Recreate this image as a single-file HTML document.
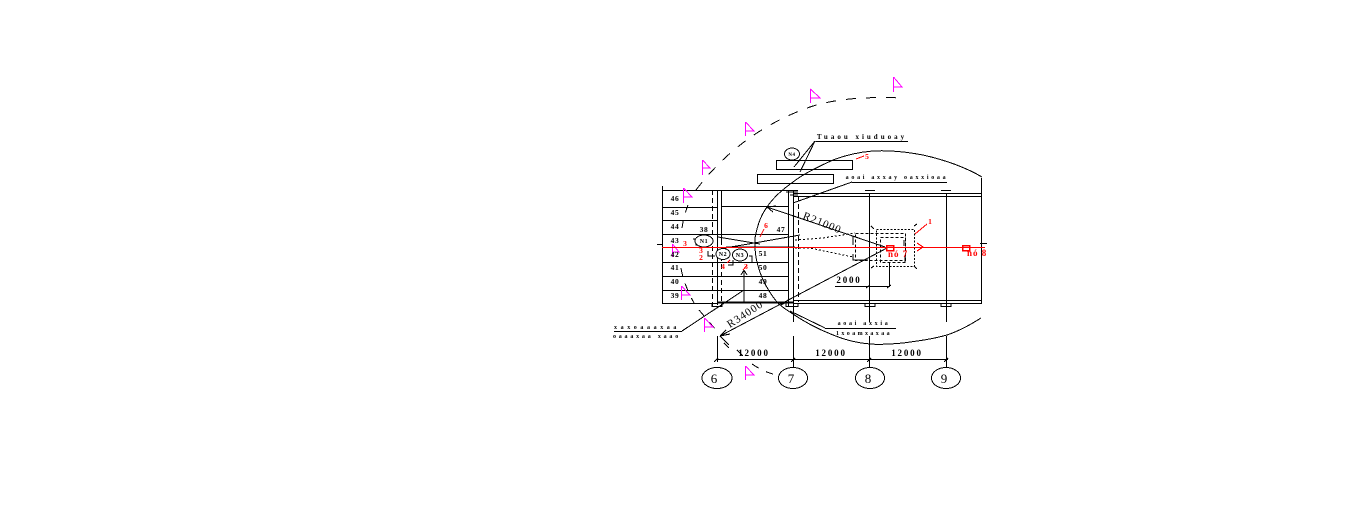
<!DOCTYPE html>
<html><head><meta charset="utf-8"><style>
html,body{margin:0;padding:0;background:#fff;width:1359px;height:519px;overflow:hidden}
svg{display:block}
text{font-family:"Liberation Serif",serif;fill:#000}
.n{font-size:7.5px;font-weight:bold;letter-spacing:.6px;text-anchor:middle}
.d{font-size:9px;font-weight:bold;letter-spacing:1.8px;text-anchor:middle}
.g{font-size:6px;font-weight:bold;text-anchor:middle}
.c{font-size:13px;text-anchor:middle}
.r{fill:#f00;font-size:7.5px;font-weight:bold;text-anchor:middle}
.rn{fill:#f00;font-size:9px;font-weight:bold;letter-spacing:1px}
</style></head><body>
<svg width="1359" height="519" viewBox="0 0 1359 519" xmlns="http://www.w3.org/2000/svg">
<g fill="none" stroke="#000" stroke-width="1" shape-rendering="crispEdges">
<!-- table -->
<path d="M662.5 186V303M662 190.5H798M662 207.5H717M662 220.5H717M662 234.5H788M662 262.5H788M662 276.5H788M662 290.5H788M662 303.5H717"/>
<path d="M717.5 190V305M793.5 190V322M869.5 193V322M946.5 193V322M981.5 178V304M717.5 336V362M793.5 336V370M869.5 336V370M946.5 336V370"/>
<path d="M788.5 190V306M721 206.5H788M793 193.5H982M793 196.5H982M793 300.5H982M793 303.5H982"/>
<path d="M717 302.5H793" stroke-width="2"/>
<path d="M712.5 190V306M721.5 240V306M798.5 196V302" stroke-dasharray="5 3"/>
<path d="M721.5 190V240"/>
<!-- axis end ticks -->
<path d="M657 244.5H663M980 243.5H987"/>
<!-- pads -->
<path d="M712 303.5V306.5H722V303.5M786 303.5V306.5H798V303.5M865 303.5V306.5H875V303.5M941 303.5V306.5H951V303.5M865 190.5H875M941 190.5H951M786 192H798M790 195H798"/>
<!-- dashed big arc -->
<path d="M696 190 C715 165 750 128 810 107 C840 97 875 97 904 98" stroke-dasharray="10 10"/>
<path d="M688 205 C684 215 682 226 681 236 M681 268 C683 280 688 292 694 303 M699 310 L716 330 M724 343 L729 348 M752 364 C758 368 765 372 773 374" stroke-dasharray="8 8"/>
<!-- rects -->
<rect x="776.5" y="160.5" width="76" height="9" fill="#fff"/>
<rect x="757.5" y="174.5" width="76" height="9" fill="#fff"/>
<!-- top leaders -->
<path d="M815.5 141.5H908M815 141L794 167M815 141L800 172M852 182.5H947M852 182L793 203"/>
<!-- solid circle arc -->
<path d="M755 238 C758 222 762 214 767 207 C775 195 787 186 800 177 C811 170 822 165 833 160 C846 155 860 152 873 151 C890 150 907 152 923 155 C945 160 965 167 982 177"/>
<path d="M755 238 C754 255 758 268 763 280 C767 288 771 295 777 302 C781 306 785 309 790 312 C804 322 818 329 833 335 C845 340 857 343 870 344 C881 345 892 344 903 343 C918 341 933 339 947 335 C959 331 970 325 981 318"/>
<!-- radius lines -->
<path d="M767 207L885 247M767 207l9 -1M767 207l6 5"/>
<path d="M720 336L887 248M720 336l10 -2M720 336l6 -6M720 336l9 9M787 302l-6 3"/>
<path d="M718 237L760 244M725 248L760 242L800 235M726 247L795 247"/>
<!-- lower leaders -->
<path d="M614 331.5H682M682 331L744 290M744 303V270M744 270l-3 5M744 270l3 5"/>
<path d="M790 311L825 328M825 328.5H896"/>
<path d="M716 359.5H948M714 362l4 -4M791 362l4 -4M867 362l4 -4M944 362l4 -4M737 350l6 6M835 286.5H890M889.5 262V286M866 288l4 -3M887 288l4 -3"/>
<!-- dashed boxes -->
<rect x="855.5" y="233.5" width="50" height="27" stroke-dasharray="3 2"/>
<rect x="876.5" y="229.5" width="38" height="37" stroke-dasharray="2 1.5"/>
<rect x="880.5" y="237.5" width="25" height="25" stroke-dasharray="3 2"/>
<path d="M853 236V245M853 254V260H868M904 240V246M905 255V262M871 226l3 3M914 226l3 -2M914 266l3 3M871 268l3 -2"/>
<path d="M795 240L823 238L855 233M795 248L810 248L853 257" stroke-dasharray="2 2"/>
<!-- small marks -->
<path d="M693 239H696V245H700M708 251V256H715M733 260V265H728M749 256H752V262"/>
<!-- ellipses -->
<ellipse cx="792" cy="154" rx="7.5" ry="6" fill="#fff"/>
<ellipse cx="704" cy="241" rx="9" ry="6" fill="#fff"/>
<ellipse cx="723" cy="254" rx="7" ry="5.5" fill="#fff"/>
<ellipse cx="740" cy="255" rx="7.5" ry="6" fill="#fff"/>
<ellipse cx="717" cy="378" rx="15" ry="10.5" fill="#fff"/>
<ellipse cx="793" cy="378" rx="14.5" ry="10.5" fill="#fff"/>
<ellipse cx="870" cy="378" rx="14.5" ry="10.5" fill="#fff"/>
<ellipse cx="946" cy="378" rx="14.5" ry="10.5" fill="#fff"/>
</g>
<!-- flags -->
<g fill="none" stroke="#f0f" stroke-width="1" shape-rendering="crispEdges">
<path d="M683.5 188V203M683.5 188L692 197H683.5"/>
<path d="M702.5 160V175M702.5 160L710 168H702.5"/>
<path d="M745.5 122V136M745.5 122L754 131H745.5"/>
<path d="M810.5 89V103M810.5 89L820 98H810.5"/>
<path d="M893.5 77V92M893.5 77L902 87H893.5"/>
<path d="M672.5 244V257M672.5 244L679 252H672.5"/>
<path d="M681.5 286V300M681.5 286L690 295H681.5"/>
<path d="M704.5 318V332M704.5 318L713 327H704.5"/>
<path d="M745.5 366V380M745.5 366L754 375H745.5"/>
</g>
<!-- red -->
<g fill="none" stroke="#f00" stroke-width="1" shape-rendering="crispEdges">
<path d="M662 247.5H985"/>
<rect x="886.5" y="245.5" width="7" height="5" stroke-width="1.5"/><rect x="962.5" y="245.5" width="7" height="5" stroke-width="1.5"/>
<path d="M917 243l6 4l-6 4M915 234L927 224M856 159L864 156M760 237L764 229M743 270L747 265M727 263L730 260"/>
</g>
<!-- table numbers -->
<text class="n" x="675" y="201">46</text><text class="n" x="675" y="215">45</text>
<text class="n" x="675" y="229">44</text><text class="n" x="675" y="243">43</text>
<text class="n" x="675" y="257">42</text><text class="n" x="675" y="270">41</text>
<text class="n" x="675" y="284">40</text><text class="n" x="675" y="298">39</text>
<text class="n" x="704" y="232">38</text><text class="n" x="781" y="232">47</text>
<text class="n" x="763" y="256">51</text><text class="n" x="763" y="270">50</text>
<text class="n" x="763" y="284">49</text><text class="n" x="763" y="298">48</text>
<text class="n" x="792" y="156" style="font-size:5px">N4</text>
<text class="n" x="704" y="243" style="font-size:6px">N1</text>
<text class="n" x="723" y="256" style="font-size:6px">N2</text>
<text class="n" x="740" y="257" style="font-size:6px">N3</text>
<!-- labels -->
<text class="g" x="862" y="139" style="letter-spacing:3px;font-size:7px">Tuaou xiuduoay</text>
<text class="g" x="897" y="179" style="letter-spacing:2.7px">aoai axxay oaxxioaa</text>
<text class="g" x="864" y="325" style="letter-spacing:2.7px">aoai axxia</text>
<text class="g" x="864" y="335" style="letter-spacing:2.4px">1xoamxaxaa</text>
<text class="g" x="647" y="329" style="letter-spacing:3.6px">xaxoaaaxaa</text>
<text class="g" x="647" y="338" style="letter-spacing:2.8px">oaaaxaa xaao</text>
<!-- dims -->
<text class="d" x="754" y="356">12000</text><text class="d" x="831" y="356">12000</text><text class="d" x="907" y="356">12000</text>
<text class="d" x="849" y="283">2000</text>
<text class="d" x="821" y="226" transform="rotate(22 821 226)" style="font-size:11px;font-weight:normal;letter-spacing:1px">R21000</text>
<text class="d" x="747" y="317" transform="rotate(-33 747 317)" style="font-size:11px;font-weight:normal;letter-spacing:1px">R34000</text>
<text class="c" x="714" y="383">6</text><text class="c" x="791" y="383">7</text>
<text class="c" x="868" y="383">8</text><text class="c" x="944" y="383">9</text>
<!-- red text -->
<text class="rn" x="888" y="257">nó 7</text><text class="rn" x="967" y="256">nó 8</text>
<text class="r" x="930" y="224">1</text><text class="r" x="867" y="159">5</text>
<text class="r" x="766" y="228">6</text><text class="r" x="685" y="246">3</text>
<text class="r" x="701" y="253">3</text><text class="r" x="701" y="260">2</text>
<text class="r" x="723" y="269">4</text><text class="r" x="746" y="269">3</text>
</svg>
</body></html>
